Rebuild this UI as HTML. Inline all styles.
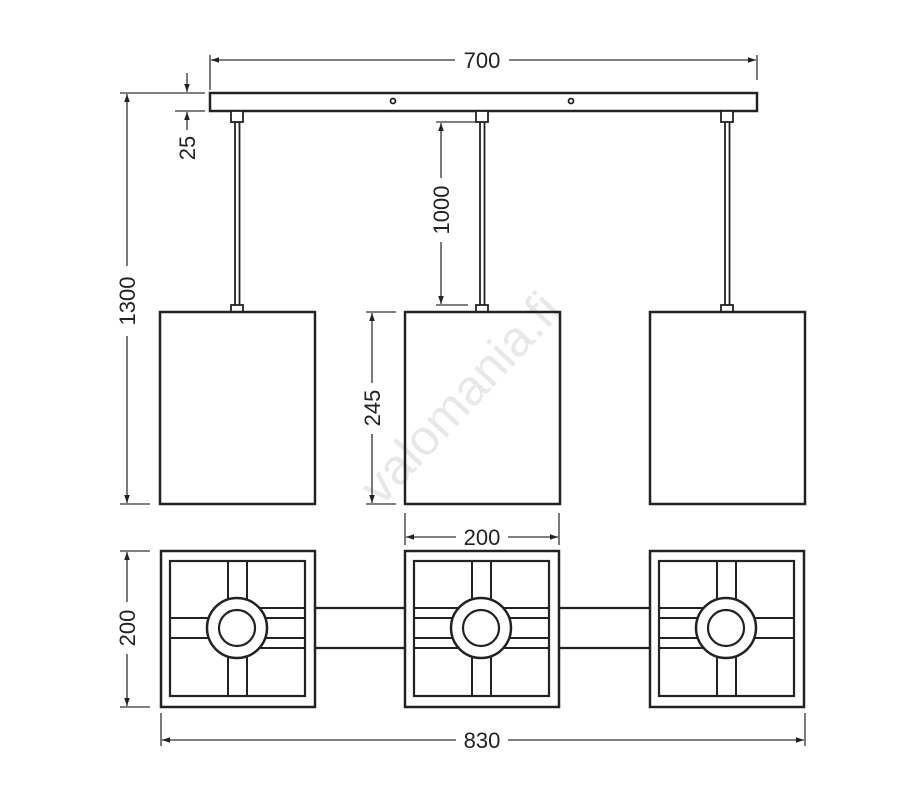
<!DOCTYPE html>
<html><head><meta charset="utf-8"><style>
html,body{margin:0;padding:0;background:#fff;}
svg{display:block;}
text{font-family:"Liberation Sans",sans-serif;font-size:22px;fill:#222;}
</style></head><body>
<svg width="917" height="803" viewBox="0 0 917 803" xmlns="http://www.w3.org/2000/svg">
<defs>
<marker id="a" viewBox="0 0 10 10" refX="10" refY="5" markerWidth="10" markerHeight="8" orient="auto-start-reverse" markerUnits="userSpaceOnUse"><path d="M0,1.5 L10,5 L0,8.5 z" fill="#222"/></marker>
<g id="sq">
<rect x="161" y="551" width="154" height="156" fill="none" stroke="#222" stroke-width="2.5"/>
<rect x="170" y="561" width="135" height="135" fill="none" stroke="#222" stroke-width="2.2"/>
<g stroke="#222" stroke-width="2" fill="none">
<line x1="228" y1="561" x2="228" y2="600"/><line x1="247" y1="561" x2="247" y2="600"/>
<line x1="228" y1="656" x2="228" y2="696"/><line x1="247" y1="656" x2="247" y2="696"/>
<line x1="170" y1="618" x2="208" y2="618"/><line x1="170" y1="638" x2="208" y2="638"/>
<line x1="266" y1="618" x2="305" y2="618"/><line x1="266" y1="638" x2="305" y2="638"/>
</g>
</g>
<g id="ring">
<circle cx="237" cy="628" r="30" fill="#fff" stroke="#222" stroke-width="2.5"/>
<circle cx="237" cy="628" r="18" fill="#fff" stroke="#222" stroke-width="2.2"/>
</g>
<g id="pend">
<rect x="231" y="111" width="12" height="11" fill="#fff" stroke="#222" stroke-width="1.8"/>
<line x1="235" y1="122" x2="235" y2="305" stroke="#222" stroke-width="1.8"/>
<line x1="239.5" y1="122" x2="239.5" y2="305" stroke="#222" stroke-width="1.8"/>
<rect x="231" y="305" width="12" height="7" fill="#fff" stroke="#222" stroke-width="1.8"/>
<rect x="160" y="312" width="155" height="192" fill="none" stroke="#222" stroke-width="2.5"/>
</g>
</defs>

<text x="460" y="415" transform="rotate(-47 460 398)" text-anchor="middle" style="font-size:50px;fill:#e8e8e8">valomania.fi</text>

<rect x="210" y="93" width="547" height="18" fill="#fff" stroke="#222" stroke-width="2.5"/>
<circle cx="393" cy="101" r="2.5" fill="none" stroke="#222" stroke-width="1.8"/>
<circle cx="571" cy="101" r="2.5" fill="none" stroke="#222" stroke-width="1.8"/>

<use href="#pend"/>
<use href="#pend" transform="translate(245,0)"/>
<use href="#pend" transform="translate(490,0)"/>

<g stroke="#222" stroke-width="2.2">
<line x1="315" y1="608" x2="404" y2="608"/><line x1="315" y1="648" x2="404" y2="648"/>
<line x1="560" y1="608" x2="650" y2="608"/><line x1="560" y1="648" x2="650" y2="648"/>
</g>
<use href="#sq"/>
<use href="#sq" transform="translate(244,0)"/>
<use href="#sq" transform="translate(489,0)"/>
<g stroke="#222" stroke-width="2">
<line x1="260" y1="608" x2="305" y2="608"/><line x1="260" y1="648" x2="305" y2="648"/>
<line x1="414" y1="608" x2="460" y2="608"/><line x1="414" y1="648" x2="460" y2="648"/>
<line x1="504" y1="608" x2="549" y2="608"/><line x1="504" y1="648" x2="549" y2="648"/>
<line x1="659" y1="608" x2="705" y2="608"/><line x1="659" y1="648" x2="705" y2="648"/>
</g>
<use href="#ring"/>
<use href="#ring" transform="translate(244,0)"/>
<use href="#ring" transform="translate(489,0)"/>

<g stroke="#333" stroke-width="1.3" fill="none">
<line x1="210" y1="55" x2="210" y2="90"/><line x1="757" y1="55" x2="757" y2="80"/>
<line x1="211" y1="60" x2="455" y2="60" marker-start="url(#a)"/>
<line x1="509" y1="60" x2="756" y2="60" marker-end="url(#a)"/>
<line x1="120" y1="93" x2="205" y2="93"/><line x1="175" y1="111" x2="205" y2="111"/>
<line x1="187" y1="73" x2="187" y2="92" marker-end="url(#a)"/>
<line x1="187" y1="130" x2="187" y2="112" marker-end="url(#a)"/>
<line x1="127" y1="94" x2="127" y2="266" marker-start="url(#a)"/>
<line x1="127" y1="336" x2="127" y2="503" marker-end="url(#a)"/>
<line x1="120" y1="504" x2="150" y2="504"/>
<line x1="436" y1="122" x2="476" y2="122"/><line x1="436" y1="305" x2="468" y2="305"/>
<line x1="441" y1="123" x2="441" y2="178" marker-start="url(#a)"/>
<line x1="441" y1="242" x2="441" y2="304" marker-end="url(#a)"/>
<line x1="366" y1="312" x2="396" y2="312"/><line x1="366" y1="504" x2="396" y2="504"/>
<line x1="372" y1="313" x2="372" y2="383" marker-start="url(#a)"/>
<line x1="372" y1="434" x2="372" y2="503" marker-end="url(#a)"/>
<line x1="405" y1="513" x2="405" y2="545"/><line x1="559" y1="513" x2="559" y2="545"/>
<line x1="406" y1="537" x2="456" y2="537" marker-start="url(#a)"/>
<line x1="508" y1="537" x2="558" y2="537" marker-end="url(#a)"/>
<line x1="120" y1="551" x2="150" y2="551"/><line x1="120" y1="707" x2="150" y2="707"/>
<line x1="127" y1="552" x2="127" y2="602" marker-start="url(#a)"/>
<line x1="127" y1="654" x2="127" y2="706" marker-end="url(#a)"/>
<line x1="162" y1="740" x2="456" y2="740" marker-start="url(#a)"/>
<line x1="508" y1="740" x2="804" y2="740" marker-end="url(#a)"/>
<line x1="161" y1="713" x2="161" y2="746"/><line x1="805" y1="713" x2="805" y2="746"/>
</g>

<text x="482" y="68" text-anchor="middle">700</text>
<text x="482" y="545" text-anchor="middle">200</text>
<text x="482" y="748" text-anchor="middle">830</text>
<text transform="translate(195,148) rotate(-90)" text-anchor="middle">25</text>
<text transform="translate(135,301) rotate(-90)" text-anchor="middle">1300</text>
<text transform="translate(449,210) rotate(-90)" text-anchor="middle">1000</text>
<text transform="translate(380,408) rotate(-90)" text-anchor="middle">245</text>
<text transform="translate(135,628) rotate(-90)" text-anchor="middle">200</text>
</svg>
</body></html>
